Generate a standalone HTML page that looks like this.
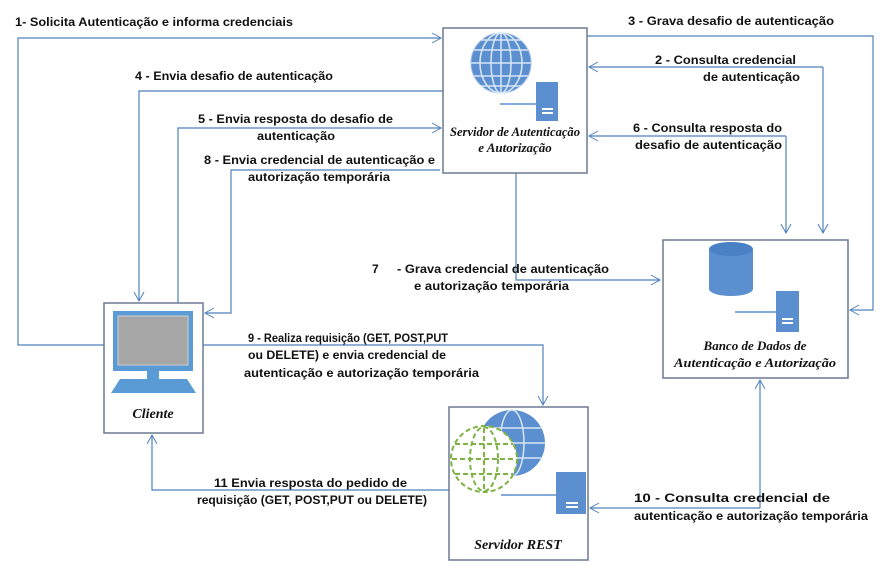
<!DOCTYPE html>
<html><head><meta charset="utf-8"><style>
body{margin:0;background:#fff}
svg text{font-family:"Liberation Sans",sans-serif;font-weight:bold;font-size:12px;fill:#111}
.c{font-family:"Liberation Serif",serif;font-style:italic;font-weight:bold;font-size:13px}
</style></head><body>
<svg width="883" height="565" viewBox="0 0 883 565" xmlns="http://www.w3.org/2000/svg">
<defs><marker id="a" markerWidth="12" markerHeight="12" refX="10" refY="6" orient="auto" markerUnits="userSpaceOnUse"><path d="M1,1 L10,6 L1,11" fill="none" stroke="#4f81bd" stroke-width="1"/></marker></defs>
<g fill="none" stroke="#4f81bd" stroke-width="1.2">
<polyline points="104,345 18,345 18,38 441,38" marker-end="url(#a)"/>
<polyline points="443,91 139,91 139,301" marker-end="url(#a)"/>
<polyline points="178,303 178,128 441,128" marker-end="url(#a)"/>
<polyline points="440,170 231,170 231,313 205,313" marker-end="url(#a)"/>
<polyline points="587,36 873,36 873,310 850,310" marker-end="url(#a)"/>
<polyline points="823,67 589,67" marker-end="url(#a)"/>
<polyline points="823,67 823,233" marker-end="url(#a)"/>
<polyline points="786,136 589,136" marker-end="url(#a)"/>
<polyline points="786,136 786,233" marker-end="url(#a)"/>
<polyline points="516,173 516,280 660,280" marker-end="url(#a)"/>
<polyline points="203,345 543,345 543,405" marker-end="url(#a)"/>
<polyline points="760,508 760,380" marker-end="url(#a)"/>
<polyline points="760,508 590,508" marker-end="url(#a)"/>
<polyline points="449,490 152,490 152,435" marker-end="url(#a)"/>
</g>
<g fill="#fff" stroke="#6b7b93" stroke-width="1.5">
<rect x="443" y="28" width="144" height="145"/>
<rect x="104" y="303" width="99" height="130"/>
<rect x="449" y="407" width="139" height="153"/>
<rect x="663" y="240" width="185" height="138"/>
</g>
<g>
<circle cx="501" cy="63" r="30" fill="#5b8fd0" stroke="#9bbbe3"/>
<g stroke="#d8e6f6" stroke-width="1.5" fill="none">
<ellipse cx="501" cy="63" rx="10" ry="30"/><ellipse cx="501" cy="63" rx="21" ry="30"/>
<line x1="471" y1="63" x2="531" y2="63"/><line x1="474" y1="50" x2="528" y2="50"/><line x1="474" y1="76" x2="528" y2="76"/><line x1="481" y1="40" x2="521" y2="40"/><line x1="481" y1="86" x2="521" y2="86"/><line x1="501" y1="33" x2="501" y2="93"/></g>
<line x1="500" y1="104" x2="536" y2="104" stroke="#5b8fd0" stroke-width="1.5"/>
<rect x="536" y="82" width="22" height="39" fill="#5b8fd0"/>
<rect x="542" y="108" width="11" height="2" fill="#fff"/><rect x="542" y="112" width="11" height="2" fill="#fff"/>
</g>
<text class="c" x="515" y="136" text-anchor="middle" textLength="130" lengthAdjust="spacingAndGlyphs">Servidor de Autenticação</text>
<text class="c" x="515" y="152" text-anchor="middle">e Autorização</text>
<rect x="113" y="311" width="80" height="60" fill="#5b9bd5"/>
<rect x="118" y="316" width="70" height="49" fill="#a6a6a6" stroke="#d0d0d0"/>
<rect x="147" y="371" width="12" height="8" fill="#5b9bd5"/>
<polygon points="120,379 187,379 196,393 111,393" fill="#5b9bd5"/>
<text class="c" x="153" y="418" text-anchor="middle" style="font-size:14px">Cliente</text>
<circle cx="512" cy="443" r="33" fill="#5b8fd0"/>
<g stroke="#d8e6f6" stroke-width="1.5" fill="none"><ellipse cx="512" cy="443" rx="12" ry="33"/><line x1="479" y1="443" x2="545" y2="443"/><line x1="483" y1="428" x2="541" y2="428"/><line x1="483" y1="458" x2="541" y2="458"/></g>
<circle cx="484" cy="459" r="33" fill="#fff" stroke="#7cb342" stroke-width="2" stroke-dasharray="5,3"/>
<g stroke="#7cb342" stroke-width="2" fill="none" stroke-dasharray="5,3"><ellipse cx="484" cy="459" rx="14" ry="32"/><line x1="452" y1="459" x2="516" y2="459"/><line x1="455" y1="444" x2="513" y2="444"/><line x1="455" y1="474" x2="513" y2="474"/><line x1="484" y1="428" x2="484" y2="490"/></g>
<line x1="501" y1="495" x2="556" y2="495" stroke="#5b8fd0" stroke-width="1.5"/>
<rect x="556" y="472" width="30" height="42" fill="#5b8fd0"/>
<rect x="566" y="502" width="12" height="2" fill="#fff"/><rect x="566" y="506" width="12" height="2" fill="#fff"/>
<text class="c" x="518" y="549" text-anchor="middle" style="font-size:14px">Servidor REST</text>
<rect x="709" y="249" width="44" height="40" fill="#5b8fd0"/>
<ellipse cx="731" cy="249" rx="22" ry="7" fill="#4a80c4"/>
<ellipse cx="731" cy="289" rx="22" ry="7" fill="#5b8fd0"/>
<line x1="735" y1="312" x2="776" y2="312" stroke="#5b8fd0" stroke-width="1.5"/>
<rect x="776" y="291" width="23" height="41" fill="#5b8fd0"/>
<rect x="782" y="318" width="11" height="2" fill="#fff"/><rect x="782" y="322" width="11" height="2" fill="#fff"/>
<text class="c" x="755" y="350" text-anchor="middle">Banco de Dados de</text>
<text class="c" x="755" y="367" text-anchor="middle" textLength="162" lengthAdjust="spacingAndGlyphs">Autenticação e Autorização</text>
<text x="15" y="26" textLength="278" lengthAdjust="spacingAndGlyphs">1- Solicita Autenticação e informa credenciais</text>
<text x="628" y="25" textLength="206" lengthAdjust="spacingAndGlyphs">3 - Grava desafio de autenticação</text>
<text x="655" y="64" textLength="141" lengthAdjust="spacingAndGlyphs">2 - Consulta credencial</text>
<text x="703" y="81" textLength="97" lengthAdjust="spacingAndGlyphs">de autenticação</text>
<text x="135" y="80" textLength="198" lengthAdjust="spacingAndGlyphs">4 - Envia desafio de autenticação</text>
<text x="198" y="123" textLength="195" lengthAdjust="spacingAndGlyphs">5 - Envia resposta do desafio de</text>
<text x="257" y="140" textLength="78" lengthAdjust="spacingAndGlyphs">autenticação</text>
<text x="633" y="132" textLength="149" lengthAdjust="spacingAndGlyphs">6 - Consulta resposta do</text>
<text x="635" y="149" textLength="147" lengthAdjust="spacingAndGlyphs">desafio de autenticação</text>
<text x="204" y="164" textLength="231" lengthAdjust="spacingAndGlyphs">8 - Envia credencial de autenticação e</text>
<text x="248" y="181" textLength="142" lengthAdjust="spacingAndGlyphs">autorização temporária</text>
<text x="372" y="273">7</text>
<text x="397" y="273" textLength="212" lengthAdjust="spacingAndGlyphs">- Grava credencial de autenticação</text>
<text x="414" y="290" textLength="155" lengthAdjust="spacingAndGlyphs">e autorização temporária</text>
<text x="248" y="342" textLength="200" lengthAdjust="spacingAndGlyphs">9 - Realiza requisição (GET, POST,PUT</text>
<text x="248" y="359" textLength="198" lengthAdjust="spacingAndGlyphs">ou DELETE) e envia credencial de</text>
<text x="244" y="377" textLength="235" lengthAdjust="spacingAndGlyphs">autenticação e autorização temporária</text>
<text x="214" y="487" textLength="193" lengthAdjust="spacingAndGlyphs">11 Envia resposta do pedido de</text>
<text x="197" y="504" textLength="230" lengthAdjust="spacingAndGlyphs">requisição (GET, POST,PUT ou DELETE)</text>
<text x="634" y="502" textLength="196" lengthAdjust="spacingAndGlyphs">10 - Consulta credencial de</text>
<text x="634" y="520" textLength="234" lengthAdjust="spacingAndGlyphs">autenticação e autorização temporária</text>
</svg>
</body></html>
